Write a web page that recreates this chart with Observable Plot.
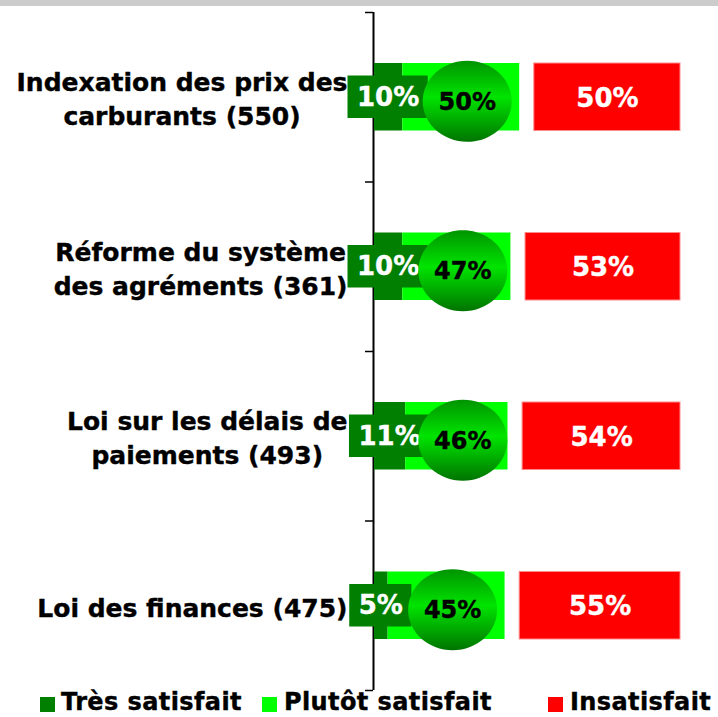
<!DOCTYPE html>
<html>
<head>
<meta charset="utf-8">
<script src="https://cdn.jsdelivr.net/npm/d3@7"></script>
<script src="https://cdn.jsdelivr.net/npm/@observablehq/plot@0.6"></script>
<style>
  body { margin: 0; background: #fff; }
  #chart svg { display: block; }
  .legend { position: relative; height: 26px; font: bold 24px "DejaVu Sans"; letter-spacing: 0.4px; line-height: 23px; color: #000; -webkit-text-stroke: 0.4px #000; }
  .legend .item { position: absolute; top: 0; white-space: nowrap; }
  .legend .sw { position: absolute; top: 6px; width: 15px; height: 15px; }
</style>
</head>
<body>
<div style="height:6px;background:#cccccc"></div>
<div id="chart"></div>
<div class="legend" id="legend"></div>
<script>
// ---- Data ----
const categories = [
  "Indexation des prix des\ncarburants (550)",
  "Réforme du système\ndes agréments (361)",
  "Loi sur les délais de\npaiements (493)",
  "Loi des finances (475)"
];
const tresSatisfait = [10, 10, 11, 5];       // "Très satisfait"
const totalSatisfait = [50, 47, 46, 45];     // satisfied total (circle label)
const insatisfait = [50, 53, 54, 55];        // "Insatisfait"
const legendLabels = ["Très satisfait", "Plutôt satisfait", "Insatisfait"];
const colors = ["#007f00", "#00ff00", "#ff0000"];

// ---- Layout/style constants ----
const GAP = 5; // gap (in %) between satisfied and unsatisfied bars
const rows = categories.map((cat, i) => ({
  i, cat, tres: tresSatisfait[i], sat: totalSatisfait[i], ins: insatisfait[i]
}));

const canvas = document.createElement("canvas");
const ctx = canvas.getContext("2d");
function measure(text, font) { ctx.font = font; return ctx.measureText(text).width; }

const ellipse = {
  draw(c) {
    const rx = 44.5, ry = 40.5, k = 0.5523;
    c.moveTo(rx, 0);
    c.bezierCurveTo(rx, ry * k, rx * k, ry, 0, ry);
    c.bezierCurveTo(-rx * k, ry, -rx, ry * k, -rx, 0);
    c.bezierCurveTo(-rx, -ry * k, -rx * k, -ry, 0, -ry);
    c.bezierCurveTo(rx * k, -ry, rx, -ry * k, rx, 0);
    c.closePath();
  }
};

const defsMark = () => {
  const defs = d3.create("svg:defs");
  const g = defs.append("linearGradient").attr("id", "sphere")
    .attr("x1", 0).attr("y1", 0).attr("x2", 0).attr("y2", 1);
  g.append("stop").attr("offset", "0%").attr("stop-color", "#009400");
  g.append("stop").attr("offset", "45%").attr("stop-color", "#00e400");
  g.append("stop").attr("offset", "100%").attr("stop-color", "#007400");
  return defs.node();
};

const boxMarks = rows.map(d => {
  const w = measure(d.tres + "%", "bold 26px 'DejaVu Sans'") + 18;
  return Plot.rect([d], {
    x1: r => r.tres / 2, x2: r => r.tres / 2,
    y1: "i", y2: r => r.i + 1,
    insetLeft: -w / 2, insetRight: -w / 2, insetTop: 63.5, insetBottom: 63.5,
    fill: colors[0]
  });
});

const labelMarks = rows.map(d => {
  const lines = d.cat.split("\n");
  const maxW = d3.max(lines, l => measure(l, "bold 25px 'DejaVu Sans'"));
  return Plot.text([d], {
    x: 0, y: r => r.i + 0.5, text: "cat",
    dx: -(26 + maxW / 2), textAnchor: "middle", lineAnchor: "middle",
    lineHeight: 1.36, fontSize: 25, fontWeight: "bold", fill: "black",
    stroke: "black", strokeWidth: 0.4
  });
});

const chart = Plot.plot({
  width: 718,
  height: 685,
  marginLeft: 373,
  marginRight: 38,
  marginTop: 6,
  marginBottom: 1,
  x: { domain: [0, 100 + GAP], axis: null },
  y: { domain: [0, categories.length], reverse: true },
  style: { fontFamily: "DejaVu Sans", overflow: "visible", background: "white" },
  marks: [
    defsMark,
    Plot.ruleX([0], { stroke: "black", strokeWidth: 2 }),
    Plot.axisY({ ticks: d3.range(categories.length + 1), tickSize: 8, tickFormat: () => "", label: null, strokeWidth: 1.5, stroke: "black" }),
    Plot.rectX(rows, { x1: 0, x2: "tres", y1: "i", y2: d => d.i + 1, insetTop: 51, insetBottom: 51, insetLeft: 1, fill: colors[0] }),
    Plot.rectX(rows, { x1: "tres", x2: "sat", y1: "i", y2: d => d.i + 1, insetTop: 51, insetBottom: 51, fill: colors[1] }),
    Plot.rectX(rows, { x1: d => d.sat + GAP, x2: 100 + GAP, y1: "i", y2: d => d.i + 1, insetTop: 51, insetBottom: 51, fill: colors[2], stroke: "#ff8a8a", strokeWidth: 1 }),
    ...boxMarks,
    Plot.text(rows, { x: d => d.tres / 2, y: d => d.i + 0.5, text: d => d.tres + "%", fill: "white", stroke: "white", strokeWidth: 0.4, fontSize: 26, fontWeight: "bold" }),
    Plot.dot(rows, { x: d => (d.tres + d.sat) / 2, y: d => d.i + 0.5, dx: 6, dy: 4, r: 44, symbol: ellipse, fill: "url(#sphere)" }),
    Plot.text(rows, { x: d => (d.tres + d.sat) / 2, y: d => d.i + 0.5, dx: 6, dy: 5, text: d => d.sat + "%", fill: "black", stroke: "black", strokeWidth: 0.4, fontSize: 24, fontWeight: "bold" }),
    Plot.text(rows, { x: d => (d.sat + GAP + 100 + GAP) / 2, y: d => d.i + 0.5, dy: 1, text: d => d.ins + "%", fill: "white", stroke: "white", strokeWidth: 0.4, fontSize: 26, fontWeight: "bold" }),
    ...labelMarks
  ]
});
document.getElementById("chart").appendChild(chart);

// ---- Legend ----
const legendPos = [[40, 61], [262, 284], [548, 570]];
const legend = d3.select("#legend");
legendLabels.forEach((lab, i) => {
  legend.append("div").attr("class", "sw").style("left", legendPos[i][0] + "px").style("background", colors[i]);
  legend.append("div").attr("class", "item").style("left", legendPos[i][1] + "px").text(lab);
});
</script>
</body>
</html>
